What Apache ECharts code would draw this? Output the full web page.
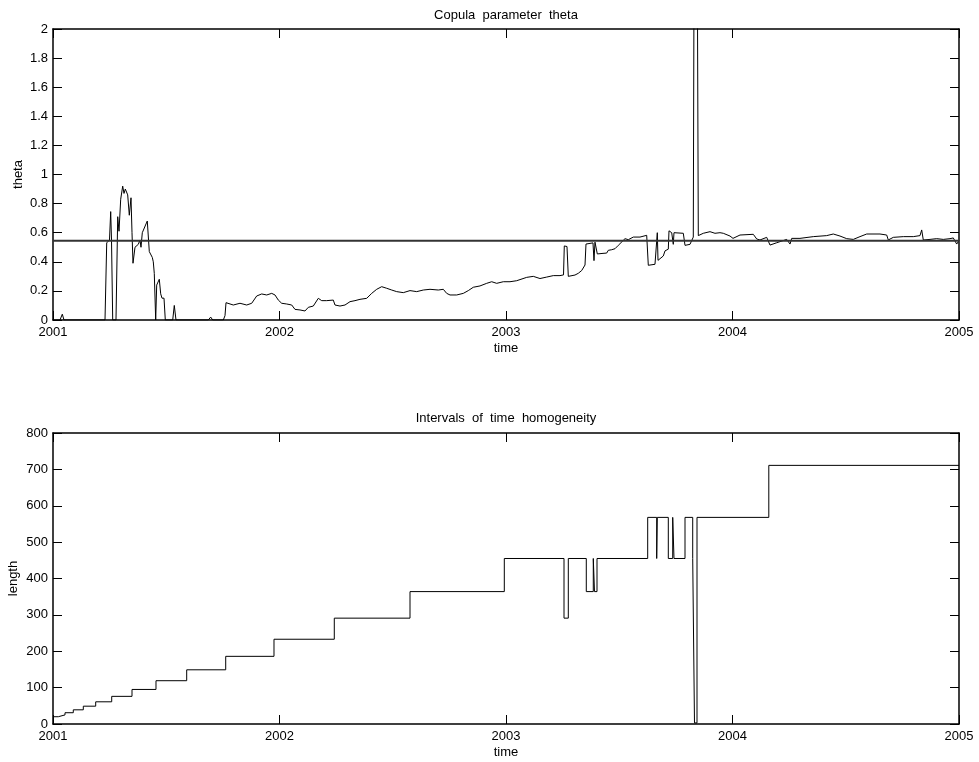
<!DOCTYPE html>
<html>
<head>
<meta charset="utf-8">
<script src="https://cdn.jsdelivr.net/npm/echarts@6/dist/echarts.min.js"></script>
<style>html,body{margin:0;padding:0;background:#fff;}#c{width:979px;height:762px;}</style>
</head>
<body>
<div id="c"></div>
<script>
// ---- Data ----
const xTicks = [2001, 2002, 2003, 2004, 2005];
const thetaTicks = [0, 0.2, 0.4, 0.6, 0.8, 1, 1.2, 1.4, 1.6, 1.8, 2];
const lengthTicks = [0, 100, 200, 300, 400, 500, 600, 700, 800];

const thetaYear = [
2001.0000,2001.0309,2001.0411,2001.0486,2001.2296,2001.2371,2001.2428,2001.2494,2001.2547,2001.2583,
2001.2636,2001.2781,2001.2857,2001.2914,2001.2989,2001.3077,2001.3135,2001.3192,2001.3254,2001.3298,
2001.3369,2001.3444,2001.3488,2001.3532,2001.3620,2001.3695,2001.3766,2001.3841,2001.3885,2001.3943,
2001.4018,2001.4106,2001.4163,2001.4252,2001.4327,2001.4384,2001.4428,2001.4472,2001.4534,2001.4578,
2001.4649,2001.4693,2001.4755,2001.4812,2001.4901,2001.4958,2001.5285,2001.5355,2001.5430,2001.6857,
2001.6962,2001.7051,2001.7519,2001.7594,2001.7638,2001.7960,2001.8256,2001.8552,2001.8773,2001.8993,
2001.9214,2001.9435,2001.9656,2001.9801,2001.9947,2002.0097,2002.0318,2002.0539,2002.0684,2002.0905,
2002.1126,2002.1272,2002.1492,2002.1713,2002.1863,2002.2084,2002.2375,2002.2450,2002.2671,2002.2892,
2002.3113,2002.3333,2002.3554,2002.3850,2002.4071,2002.4291,2002.4512,2002.4733,2002.4954,2002.5174,
2002.5466,2002.5762,2002.6057,2002.6349,2002.6645,2002.7011,2002.7232,2002.7382,2002.7528,2002.7823,
2002.8115,2002.8336,2002.8556,2002.8852,2002.9148,2002.9369,2002.9589,2002.9881,2002.9956,2003.0177,
2003.0472,2003.0914,2003.1205,2003.1501,2003.1797,2003.2088,2003.2384,2003.2539,2003.2574,2003.2693,
2003.2751,2003.2826,2003.3046,2003.3192,2003.3342,2003.3488,2003.3532,2003.3620,2003.3841,2003.3885,
2003.3929,2003.4031,2003.4283,2003.4446,2003.4517,2003.4667,2003.4812,2003.4958,2003.5033,2003.5254,
2003.5400,2003.5620,2003.5916,2003.6212,2003.6256,2003.6283,2003.6578,2003.6653,2003.6680,2003.6711,
2003.6945,2003.7020,2003.7166,2003.7196,2003.7316,2003.7386,2003.7417,2003.7828,2003.7903,2003.8124,
2003.8269,2003.8313,2003.8433,2003.8490,2003.8711,2003.9007,2003.9227,2003.9448,2003.9594,2003.9890,
2004.0022,2004.0331,2004.0918,2004.1068,2004.1214,2004.1510,2004.1656,2004.1951,2004.2393,2004.2539,
2004.2614,2004.2980,2004.3567,2004.4159,2004.4450,2004.4746,2004.5042,2004.5333,2004.5629,2004.5925,
2004.6512,2004.6808,2004.6879,2004.7099,2004.7541,2004.7982,2004.8278,2004.8353,2004.8424,2004.8720,
2004.9015,2004.9307,2004.9603,2004.9748,2004.9898,2005.0000
];
const thetaValue = [
0,0,0.04,0,0,0.53,0.53,0.55,0.745,0.55,
0,0,0.71,0.61,0.83,0.92,0.87,0.90,0.89,0.86,
0.72,0.84,0.60,0.39,0.50,0.49,0.52,0.55,0.50,0.60,
0.61,0.66,0.68,0.47,0.46,0.43,0.40,0.32,0,0.24,
0.24,0.28,0.18,0.15,0.15,0,0,0.10,0,0,
0.02,0,0,0.03,0.119,0.103,0.115,0.103,0.115,0.165,
0.179,0.172,0.183,0.172,0.137,0.115,0.110,0.103,0.073,0.069,
0.062,0.087,0.096,0.149,0.133,0.133,0.137,0.103,0.096,0.103,
0.126,0.133,0.142,0.149,0.183,0.211,0.229,0.218,0.206,0.195,
0.188,0.202,0.195,0.206,0.211,0.206,0.211,0.183,0.172,0.172,
0.183,0.202,0.225,0.234,0.252,0.263,0.252,0.263,0.275,0.263,
0.270,0.293,0.300,0.285,0.295,0.305,0.305,0.310,0.509,0.505,
0.300,0.293,0.309,0.321,0.340,0.378,0.522,0.530,0.530,0.408,
0.535,0.454,0.458,0.460,0.479,0.483,0.490,0.513,0.525,0.559,
0.552,0.570,0.570,0.582,0.580,0.376,0.383,0.390,0.600,0.410,
0.440,0.475,0.487,0.613,0.600,0.520,0.600,0.596,0.513,0.520,
0.570,3.0,3.0,0.580,0.596,0.607,0.596,0.600,0.596,0.577,
0.561,0.584,0.589,0.557,0.550,0.568,0.515,0.531,0.554,0.522,
0.561,0.561,0.573,0.580,0.591,0.577,0.559,0.554,0.573,0.591,
0.591,0.584,0.550,0.568,0.573,0.573,0.580,0.619,0.550,0.554,
0.559,0.554,0.559,0.564,0.522,0.545
];
const thetaMeanYear = [2001, 2005];
const thetaMeanValue = [0.545, 0.545];

const lengthYear = [
2001.0000,2001.0234,2001.0530,2001.0896,2001.1338,2001.1885,2001.2592,2001.3488,2001.4547,2001.5903,
2001.7625,2001.9757,2002.2419,2002.5762,2002.9925,2003.2561,2003.2751,2003.3545,2003.3854,2003.3907,
2003.4018,2003.6256,2003.6653,2003.6680,2003.7166,2003.7360,2003.7417,2003.7903,2003.8243,2003.8322,
2003.8433,2004.1603,2005.0000
];
const lengthValue = [
20,25,31,39,49,61,76,95,119,149,
186,233,291,364,455,291,455,364,455,364,
455,568,455,568,455,568,455,568,455,3,
568,711,711
];

// ---- Chart ----
const FONT = 'Liberation Sans, Arial, Helvetica, sans-serif';
const zip = (a, b) => a.map((v, i) => [v, b[i]]);
const chart = echarts.init(document.getElementById('c'), null, {renderer: 'canvas'});

const tickStyle = {show: true, inside: true, length: 9, lineStyle: {color: '#000', width: 1}};
const lineStyle = {show: true, onZero: false, lineStyle: {color: '#000', width: 1.5}};
const lbl = {color: '#000', fontFamily: FONT, fontSize: 13};

function xAx(grid, pos, withLabels, name) {
  return {
    type: 'value', gridIndex: grid, position: pos, min: 2001, max: 2005, interval: 1,
    axisLine: lineStyle, axisTick: tickStyle, splitLine: {show: false},
    axisLabel: withLabels ? Object.assign({show: true, margin: 6, formatter: v => String(v)}, lbl) : {show: false},
    name: name || '', nameLocation: 'middle', nameGap: 22, nameMoveOverlap: false,
    nameTextStyle: {color: '#000', fontFamily: FONT, fontSize: 13}
  };
}
function yAx(grid, pos, withLabels, min, max, interval, name, gap) {
  return {
    type: 'value', gridIndex: grid, position: pos, min: min, max: max, interval: interval,
    axisLine: lineStyle, axisTick: tickStyle, splitLine: {show: false},
    axisLabel: withLabels ? Object.assign({show: true, margin: 5}, lbl) : {show: false},
    name: name || '', nameLocation: 'middle', nameGap: gap || 30, nameRotate: 90, nameMoveOverlap: false,
    nameTextStyle: {color: '#000', fontFamily: FONT, fontSize: 13}
  };
}

chart.setOption({
  animation: false,
  backgroundColor: '#fff',
  title: [
    {text: 'Copula  parameter  theta', left: 506, top: 9, textAlign: 'center', padding: 0,
     textStyle: {color: '#000', fontFamily: FONT, fontSize: 13, fontWeight: 'normal'}},
    {text: 'Intervals  of  time  homogeneity', left: 506, top: 412, textAlign: 'center', padding: 0,
     textStyle: {color: '#000', fontFamily: FONT, fontSize: 13, fontWeight: 'normal'}}
  ],
  grid: [
    {left: 53, top: 29, width: 906, height: 291, containLabel: false, outerBoundsMode: 'none'},
    {left: 53, top: 433, width: 906, height: 291, containLabel: false, outerBoundsMode: 'none'}
  ],
  xAxis: [
    xAx(0, 'bottom', true, 'time'),
    xAx(0, 'top', false),
    xAx(1, 'bottom', true, 'time'),
    xAx(1, 'top', false)
  ],
  yAxis: [
    yAx(0, 'left', true, 0, 2, 0.2, 'theta', 28),
    yAx(0, 'right', false, 0, 2, 0.2),
    yAx(1, 'left', true, 0, 800, 100, 'length', 33),
    yAx(1, 'right', false, 0, 800, 100)
  ],
  series: [
    {type: 'line', xAxisIndex: 0, yAxisIndex: 0, data: zip(thetaMeanYear, thetaMeanValue),
     showSymbol: false, lineStyle: {color: '#333', width: 2}, silent: true, z: 3},
    {type: 'line', xAxisIndex: 0, yAxisIndex: 0, data: zip(thetaYear, thetaValue),
     showSymbol: false, clip: true, lineStyle: {color: '#000', width: 1}, silent: true, z: 2},
    {type: 'line', xAxisIndex: 2, yAxisIndex: 2, data: zip(lengthYear, lengthValue), step: 'end',
     showSymbol: false, clip: true, lineStyle: {color: '#000', width: 1}, silent: true}
  ]
});
</script>
</body>
</html>
